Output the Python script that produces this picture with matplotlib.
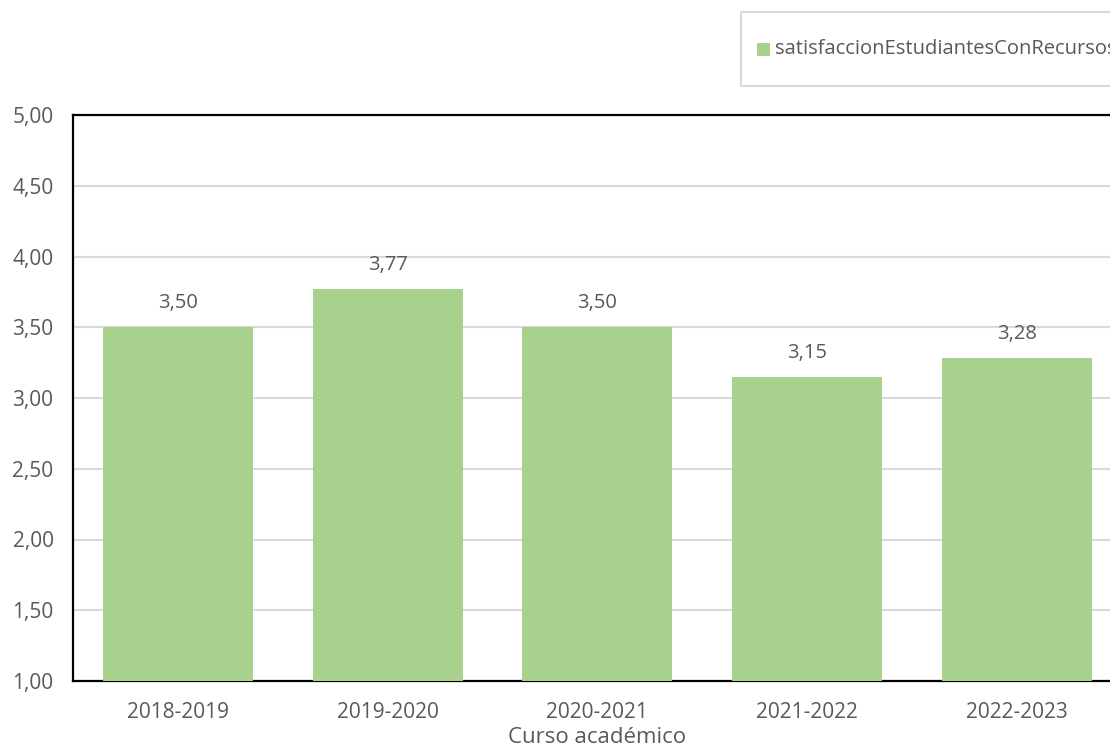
import matplotlib
matplotlib.use("Agg")
import matplotlib.pyplot as plt
from matplotlib.patches import Rectangle

categories = ["2018-2019", "2019-2020", "2020-2021", "2021-2022", "2022-2023"]
values = [3.50, 3.77, 3.50, 3.15, 3.28]
yticks = [1.0, 1.5, 2.0, 2.5, 3.0, 3.5, 4.0, 4.5, 5.0]
series_name = "satisfaccionEstudiantesConRecursos"

plt.rcParams['font.family'] = ['Open Sans', 'DejaVu Sans']
TXT = "#595959"
GREEN = "#A9D18E"

W, H = 1110, 747
fig = plt.figure(figsize=(W/100, H/100), dpi=100)
ax = fig.add_axes([73/W, (H-681)/H, 1048.5/W, 566/H])

x = list(range(len(categories)))
ax.bar(x, values, width=0.715, color=GREEN, zorder=3, label=series_name)
ax.set_xlim(-0.5, len(categories)-0.5)
ax.set_ylim(1, 5)
ax.set_yticks(yticks)
ax.set_yticklabels([f"{v:.2f}".replace(".", ",") for v in yticks], color=TXT, fontsize=15)
ax.set_xticks(x)
ax.set_xticklabels(categories, color=TXT, fontsize=15)
ax.tick_params(axis='y', length=0, pad=14)
ax.tick_params(axis='x', length=0, pad=15)
ax.grid(axis='y', color="#D9D9D9", linewidth=1.5, zorder=0)
for s in ax.spines.values():
    s.set_color("black")
    s.set_linewidth(1.6)

for xi, v in zip(x, values):
    ax.annotate(f"{v:.2f}".replace(".", ","), (xi, v), xytext=(0, 10),
                textcoords="offset points", ha="center", va="bottom",
                color=TXT, fontsize=14.5)

ax.set_xlabel("Curso académico", color=TXT, fontsize=16, labelpad=3)

# legend box (manual, cut at right edge like the reference)
fig.patches.append(Rectangle((741/W, (H-86)/H), 420/W, 74/H, transform=fig.transFigure,
                             facecolor="white", edgecolor="#D9D9D9", linewidth=1.5))
fig.patches.append(Rectangle((757/W, (H-56)/H), 13/W, 13/H, transform=fig.transFigure,
                             facecolor=GREEN, edgecolor="none"))
fig.text(775/W, (H-49)/H, series_name, color=TXT, fontsize=14.5, va="center", ha="left")

fig.savefig("out.png", dpi=100)
